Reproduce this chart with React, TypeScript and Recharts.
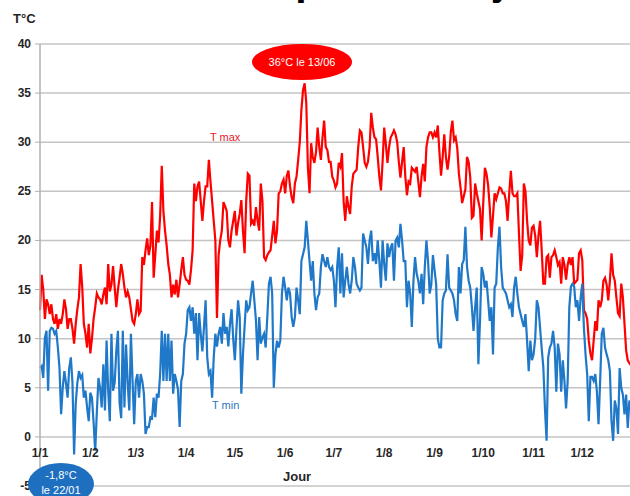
import { LineChart, Line, XAxis, YAxis, CartesianGrid } from 'recharts'

// repères de l'axe des x : premier jour de chaque mois
const monthTicks = [0, 31, 59, 90, 120, 151, 181, 212, 243, 273, 304, 334]
const monthLabels = ['1/1', '1/2', '1/3', '1/4', '1/5', '1/6', '1/7', '1/8', '1/9', '1/10', '1/11', '1/12']
const yTicks = [-5, 0, 5, 10, 15, 20, 25, 30, 35, 40]

// T max par mois (°C)
const tMaxJan = [12.9, 16.5, 15, 12, 14, 13.5, 12.5, 13.5, 12, 11.5, 12.5, 11, 12, 11.5, 12.5, 14, 13, 11, 12, 12, 11, 9.5, 11.5, 13, 14.2, 17.6, 15.3, 11.5, 10.5, 9.1, 11.5]
const tMaxFeb = [8.5, 10, 12, 13.2, 14.6, 14.2, 14, 13.5, 14.5, 15.2, 13.5, 17.6, 14.8, 15.5, 17.4, 15.2, 13.2, 15, 16.2, 17.6, 16.6, 15.2, 14.2, 14.8, 14.2, 13, 11.8, 11.5]
const tMaxMar = [12.5, 14, 12.5, 12.8, 18.3, 17.5, 19, 20.2, 18.5, 19.5, 23.9, 16.2, 18.5, 21, 19.8, 22.5, 27.6, 23, 21, 19.5, 17.6, 16.5, 14.2, 15.5, 14.5, 16, 14.2, 15.5, 17, 18.3, 16.5]
const tMaxApr = [16, 15.9, 15.5, 17, 19, 25.8, 24, 25.5, 26, 24, 22, 24, 25.5, 25.5, 28.2, 26, 24, 22, 20, 12.1, 18.5, 20, 21, 23.9, 23.5, 23, 20, 19.3, 21, 22]
const tMaxMay = [23, 20.5, 21.8, 22.7, 24.1, 21, 18.7, 24, 26.8, 26.6, 21.7, 22, 21.5, 23.4, 22, 21, 25.8, 24, 18.3, 18, 18.5, 18.8, 19, 20.5, 22, 19.7, 21, 24.8, 25, 25.8, 26.2]
const tMaxJun = [24.8, 26.6, 27.1, 25.5, 24.4, 23.8, 25.8, 26.5, 28.2, 30, 33.3, 35.3, 36, 34, 27.4, 24.8, 29.9, 28.5, 27.9, 29, 31.5, 29.5, 28.2, 30.5, 32.2, 29.5, 29.2, 28, 28, 26.5]
const tMaxJul = [26.1, 25.4, 25.8, 27.9, 27.5, 28.9, 24, 22, 24.5, 23.4, 22.7, 25.5, 26.8, 27, 27.2, 29.5, 31.2, 31, 29.5, 27.9, 27.5, 28, 29.5, 33, 31.5, 30.5, 30.3, 28.5, 26.5, 25.1, 28]
const tMaxAug = [31.5, 29.8, 27.9, 29.5, 30.5, 30.8, 31.2, 30.8, 30, 28, 26.4, 28, 29.5, 26.5, 24.6, 26, 25.8, 27.4, 27.2, 27, 27.5, 26, 24.4, 26.5, 27.8, 26, 29.5, 30.5, 31, 31, 30.5]
const tMaxSep = [31, 30.5, 31.7, 29, 26.6, 28.5, 30.8, 28.5, 27.2, 28.5, 31, 32.2, 30.2, 30.5, 29.4, 26.8, 25.4, 23.8, 24.5, 25.2, 28.5, 28, 26.4, 22.3, 22.5, 25.8, 24.8, 24, 23.2, 20]
const tMaxOct = [23.8, 27.4, 26.8, 25.6, 23.4, 20.3, 22.5, 24.8, 24.2, 24.8, 25.4, 25.3, 24.8, 24.8, 24, 22, 24.8, 27.1, 24.8, 24.5, 24.5, 24.8, 20.7, 16.9, 18.5, 25.8, 25, 22, 20, 19.5, 21.3]
const tMaxNov = [21.5, 20.5, 18.3, 20.5, 22, 19, 15.6, 15.6, 18.3, 18.5, 16.2, 18.3, 18.5, 19, 18.3, 17.5, 17.8, 15.6, 18.3, 17.5, 16, 17.5, 18.3, 17.5, 18.3, 15.6, 15.8, 16, 18.7, 19]
const tMaxDec = [18, 12.9, 12.6, 12, 9.8, 8.5, 7.8, 9.8, 11.8, 10.8, 13.9, 13.2, 13.9, 15.9, 16.2, 15.5, 13.9, 15.9, 18.7, 16.5, 15.9, 14.2, 12.6, 12.3, 15.6, 14.2, 11.5, 8.8, 7.8, 7.5, 7.3]

// T min par mois (°C)
const tMinJan = [7, 7.2, 6, 10.1, 10.8, 4.7, 10.8, 11.1, 11, 10.5, 10.8, 9.1, 7, 2.3, 5, 6.7, 5.5, 4, 7, 8.1, 5.5, -1.8, 3.4, 5.5, 6.7, 6, 6.3, 4, 4.7, 3, 1.6]
const tMinFeb = [4.5, 4, 1.5, -1.4, 2.5, 6, 5, 3, 7.4, 2.7, 9.8, 4.7, 1.6, 10.5, 4.7, 5.5, 8.8, 10.8, 3.5, 1.9, 10.8, 3, 9.4, 5.5, 2.7, 10.5, 5.7, 1.3]
const tMinMar = [5.7, 6.4, 4, 6.4, 5.7, 4.4, 0.3, 1, 1, 2, 1.9, 4, 2, 4.4, 4, 6.4, 10.8, 5.7, 10.5, 5.7, 10.5, 5.7, 9.8, 4.4, 6.4, 5.7, 4.8, 1, 5.7, 6.4, 9.5]
const tMinApr = [10.5, 12.9, 13.2, 11.8, 13.2, 10.5, 12.6, 7.8, 12.6, 10.5, 8.7, 11.2, 13.9, 8.1, 6.4, 6.7, 4, 8.1, 10.5, 9.2, 10.5, 11.2, 9.5, 12.6, 10.5, 11.2, 9.2, 11.5, 13, 10]
const tMinMay = [7.8, 11, 13.9, 12.2, 4.4, 8.4, 11.2, 13.9, 12.9, 13.2, 14.6, 15.9, 13.9, 11.9, 7.8, 12.2, 9.5, 10.1, 10.5, 9.1, 12.2, 15.6, 16.3, 14.6, 5, 8.4, 9.8, 9.1, 9.8, 14.6, 16.3]
const tMinJun = [15.2, 13.9, 15.2, 14.6, 12.2, 11.2, 12.2, 15.2, 13.9, 12.5, 17.9, 18.6, 19.3, 22, 20, 17.9, 15.9, 17.9, 14.6, 12.9, 14.2, 14.6, 17.3, 18.6, 17.9, 17.3, 18.3, 17.3, 17, 17.3]
const tMinJul = [15.9, 13.2, 17.3, 19.3, 14.6, 18.7, 14.2, 15.9, 17.3, 15.6, 14.6, 15.9, 18.3, 17.3, 15.6, 15.2, 14.9, 15.2, 20.7, 20, 19.3, 17.6, 20, 21, 17.9, 18.7, 17.6, 20, 17.9, 15.2, 20]
const tMinAug = [17.6, 15.9, 19.7, 18.3, 19.3, 19.7, 15.9, 20, 20.3, 19.3, 21.7, 20, 17.9, 17.9, 13.2, 15.9, 14.6, 11.2, 15.9, 18.3, 16.6, 15.9, 14.6, 16.6, 13.5, 17.3, 20, 17.9, 14.6, 15.5, 18.5]
const tMinSep = [17, 15.5, 10, 9.1, 9.1, 13.9, 14.6, 14.9, 18.6, 15.2, 14.9, 14.6, 13.9, 12.5, 11.8, 17.3, 14.6, 17.6, 18, 21.4, 17.3, 15.9, 15.2, 13.2, 10.8, 13.2, 15.2, 7.4, 11.8, 17.3]
const tMinOct = [16.6, 15.2, 15.9, 13.9, 11.8, 13.2, 8.4, 15.2, 15.6, 19.3, 21.4, 17.3, 15.2, 14.9, 14.6, 13.9, 13.2, 13.5, 12.2, 15.2, 16.3, 14.6, 13.2, 12.5, 11.8, 11.2, 12.5, 9.8, 6.7, 9.8, 7.8]
const tMinNov = [8.4, 10, 13.9, 13.2, 11.1, 9, 7.1, 2.9, -0.4, 8.1, 9.1, 9.5, 10.8, 9.1, 4.6, 9.5, 8.4, 4.6, 7.8, 5.7, 2.9, 5.7, 13.2, 15.3, 15.6, 15.3, 13.2, 13.9, 11.8, 14.2]
const tMinDec = [15.6, 11.1, 8.4, 6.4, 1.6, 6.1, 6.1, 5.7, 6.4, 4.6, 1.3, 5.7, 10.5, 11.1, 9.1, 8.4, 7.8, 6.7, 1.6, -0.4, 3.7, 2.9, 0.3, 7, 5, 4.3, 2.3, 4.3, 0.9, 3.7, 3.2]

const tMax = [...tMaxJan, ...tMaxFeb, ...tMaxMar, ...tMaxApr, ...tMaxMay, ...tMaxJun, ...tMaxJul, ...tMaxAug, ...tMaxSep, ...tMaxOct, ...tMaxNov, ...tMaxDec]
const tMin = [...tMinJan, ...tMinFeb, ...tMinMar, ...tMinApr, ...tMinMay, ...tMinJun, ...tMinJul, ...tMinAug, ...tMinSep, ...tMinOct, ...tMinNov, ...tMinDec]

const data = tMax.map((v, i) => ({ day: i, tmax: v, tmin: tMin[i] }))

const FONT = '"Liberation Sans", Arial, sans-serif'
const NARROW = '"Liberation Sans Narrow", "Liberation Sans", Arial, sans-serif'

const XTick = ({ x, y, payload }: any) => (
  <text x={x} y={y - 37} textAnchor="middle" fontSize={12} fontWeight="bold" fill="#262626" fontFamily={FONT}>
    {monthLabels[monthTicks.indexOf(payload.value)]}
  </text>
)

const YTick = ({ y, payload }: any) => (
  <text x={31} y={y + 4} textAnchor="end" fontSize={12} fontWeight="bold" fill="#262626" fontFamily={FONT}>
    {payload.value}
  </text>
)

export default function App() {
  return (
    <div style={{ position: 'absolute', left: 0, top: 0, width: 630, height: 496, overflow: 'hidden', background: '#fff' }}>
      {/* titre, coupé en haut de l'image comme dans l'original */}
      <div
        style={{
          position: 'absolute',
          left: 214,
          top: -39,
          fontFamily: FONT,
          fontWeight: 'bold',
          fontSize: 41,
          lineHeight: '41px',
          whiteSpace: 'nowrap',
          color: '#000',
        }}
      >
        Températures journalières
      </div>

      <div style={{ position: 'absolute', left: 13, top: 11, fontFamily: FONT, fontWeight: 'bold', fontSize: 13, color: '#262626' }}>
        T°C
      </div>

      <LineChart width={632} height={496} data={data} margin={{ top: 44, right: 1, bottom: 0, left: 0 }}>
        <CartesianGrid vertical={false} stroke="#c4c4c4" strokeWidth={1.5} />
        <XAxis
          dataKey="day"
          type="number"
          domain={[0, 364]}
          ticks={monthTicks}
          tick={<XTick />}
          tickLine={false}
          axisLine={false}
          height={10}
          interval={0}
        />
        <YAxis
          domain={[-5, 40]}
          ticks={yTicks}
          tick={<YTick />}
          width={40}
          tickSize={5}
          tickLine={{ stroke: '#b0b0b0' }}
          axisLine={{ stroke: '#b0b0b0', strokeWidth: 1.5 }}
          interval={0}
        />
        <Line type="linear" dataKey="tmax" stroke="#ff0000" strokeWidth={2.2} dot={false} isAnimationActive={false} />
        <Line type="linear" dataKey="tmin" stroke="#1f78c8" strokeWidth={2.2} dot={false} isAnimationActive={false} />
      </LineChart>

      <div style={{ position: 'absolute', left: 210, top: 131, fontFamily: NARROW, fontSize: 11, color: '#e8202a' }}>T max</div>
      <div style={{ position: 'absolute', left: 212, top: 399, fontFamily: NARROW, fontSize: 11, color: '#2e75c0' }}>T min</div>

      <div style={{ position: 'absolute', left: 283, top: 469, fontFamily: FONT, fontWeight: 'bold', fontSize: 13, color: '#262626' }}>
        Jour
      </div>

      <div
        style={{
          position: 'absolute',
          left: 252,
          top: 44,
          width: 100,
          height: 36,
          borderRadius: '50%',
          background: '#ff0000',
          color: '#fff',
          fontFamily: NARROW,
          fontSize: 11,
          display: 'flex',
          alignItems: 'center',
          justifyContent: 'center',
        }}
      >
        36°C le 13/06
      </div>

      <div
        style={{
          position: 'absolute',
          left: 28,
          top: 463,
          width: 66,
          height: 42,
          borderRadius: '50%',
          background: '#1e6fc0',
          color: '#fff',
          fontFamily: NARROW,
          fontSize: 11,
          lineHeight: '15px',
          textAlign: 'center',
          paddingTop: 5,
          boxSizing: 'border-box',
        }}
      >
        -1,8°C
        <br />
        le 22/01
      </div>
    </div>
  )
}
